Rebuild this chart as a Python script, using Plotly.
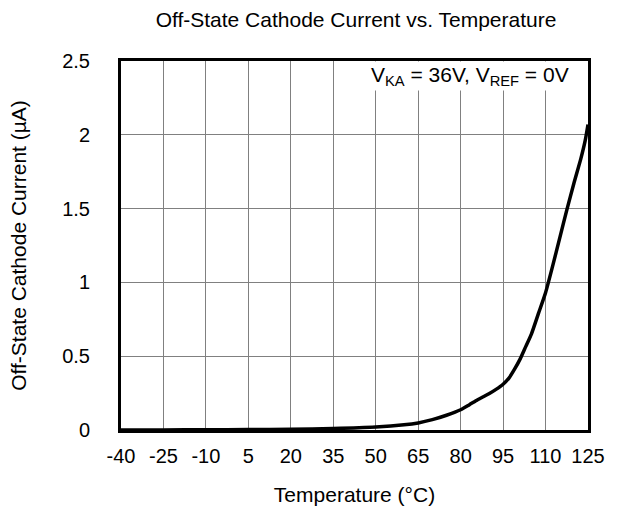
import plotly.graph_objects as go

temps = [-40, -25, -10, 5, 20, 35, 50, 60, 65, 70, 75, 80, 83, 86, 88, 90, 92.5, 95, 97, 99, 101,
         103, 105, 107.5, 110, 112.5, 115, 117.5, 120, 122.5, 124, 125]
current = [0.0, 0.0, 0.002, 0.003, 0.005, 0.01, 0.02, 0.035, 0.048, 0.07, 0.1, 0.137, 0.17, 0.205, 0.225,
           0.245, 0.275, 0.31, 0.35, 0.41, 0.48, 0.565, 0.65, 0.79, 0.93, 1.11, 1.30, 1.49, 1.67, 1.84,
           1.96, 2.07]

x_ticks = [-40, -25, -10, 5, 20, 35, 50, 65, 80, 95, 110, 125]
x_tick_labels = ["-40", "-25", "-10", "5", "20", "35", "50", "65", "80", "95", "110", "125"]
y_ticks = [0, 0.5, 1, 1.5, 2, 2.5]
y_tick_labels = ["0", "0.5", "1", "1.5", "2", "2.5"]

font = "Liberation Sans, Arial, sans-serif"

fig = go.Figure()
fig.add_trace(go.Scatter(x=temps, y=current, mode="lines",
                         line=dict(color="black", width=3.5, shape="spline", smoothing=0.6),
                         showlegend=False, hoverinfo="skip"))

fig.update_layout(
    width=617, height=516,
    margin=dict(l=121, r=22, t=61, b=77),
    paper_bgcolor="white", plot_bgcolor="white",
    font=dict(family=font, size=20, color="black"),
    title=dict(text="Off-State Cathode Current vs. Temperature", x=0.577, xanchor="center",
               y=0.961, yanchor="middle", font=dict(size=21, family=font, color="black")),
    annotations=[dict(text="V<sub>KA</sub> = 36V, V<sub>REF</sub> = 0V", xref="paper", yref="paper",
                      x=0.963, y=0.958, xanchor="right", yanchor="middle", showarrow=False,
                      bgcolor="white", borderpad=1, font=dict(size=21, family=font, color="black"))],
)
fig.update_xaxes(range=[-40, 125], tickvals=x_ticks, ticktext=x_tick_labels, showgrid=True,
                 gridcolor="#808080", gridwidth=1, showline=True, linecolor="black", linewidth=3,
                 mirror=True, ticks="", zeroline=False, ticklabelstandoff=6,
                 title=dict(text="Temperature (°C)", standoff=22, font=dict(size=21)),
                 tickfont=dict(size=20))
fig.update_yaxes(range=[0, 2.5], tickvals=y_ticks, ticktext=y_tick_labels, showgrid=True,
                 gridcolor="#808080", gridwidth=1, showline=True, linecolor="black", linewidth=3,
                 mirror=True, ticks="", zeroline=False, ticklabelstandoff=24,
                 title=dict(text="Off-State Cathode Current (µA)", standoff=30, font=dict(size=21)),
                 tickfont=dict(size=20))

fig.write_html("out.html", config={"displayModeBar": False},
               post_script="document.body.style.margin='0px';")
